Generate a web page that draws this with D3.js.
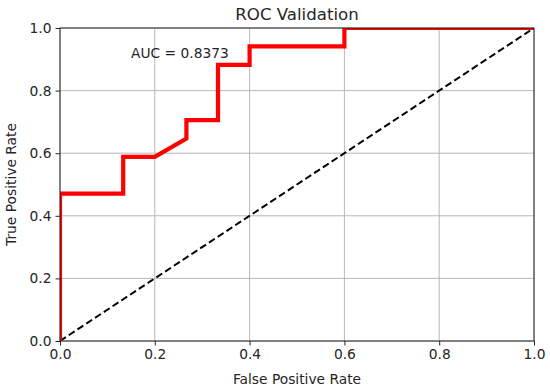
<!DOCTYPE html>
<html><head><meta charset="utf-8">
<script src="https://cdn.jsdelivr.net/npm/d3@7"></script>
<style>body{margin:0;background:#fff;} text{font-family:"DejaVu Sans",sans-serif;fill:#262626;}</style>
</head><body><svg id="c" width="550" height="391"></svg>
<script>
const fpr = [0, 0, 2/15, 2/15, 3/15, 4/15, 4/15, 5/15, 5/15, 6/15, 6/15, 9/15, 9/15, 1];
const tpr = [0, 8/17, 8/17, 10/17, 10/17, 11/17, 12/17, 12/17, 15/17, 15/17, 16/17, 16/17, 1, 1];
const ticks = [0, 0.2, 0.4, 0.6, 0.8, 1.0];
const aucText = "AUC = 0.8373";
const title = "ROC Validation";

const svg = d3.select("#c");
const L = 60, R = 534, T = 28, B = 341;
const x = d3.scaleLinear().domain([0,1]).range([L,R]);
const y = d3.scaleLinear().domain([0,1]).range([B,T]);

svg.append("defs").append("clipPath").attr("id","clip").append("rect")
  .attr("x",L).attr("y",T).attr("width",R-L).attr("height",B-T);

// grid
svg.append("g").selectAll("line").data(ticks).join("line")
  .attr("x1",d=>x(d)).attr("x2",d=>x(d)).attr("y1",T).attr("y2",B)
  .attr("stroke","#b0b0b0").attr("stroke-width",0.9);
svg.append("g").selectAll("line").data(ticks).join("line")
  .attr("y1",d=>y(d)).attr("y2",d=>y(d)).attr("x1",L).attr("x2",R)
  .attr("stroke","#b0b0b0").attr("stroke-width",0.9);

const g = svg.append("g").attr("clip-path","url(#clip)");
// diagonal
g.append("line").attr("x1",x(0)).attr("y1",y(0)).attr("x2",x(1)).attr("y2",y(1))
  .attr("stroke","#000").attr("stroke-width",2).attr("stroke-dasharray","7,3.5");
// ROC
const pts = fpr.map((f,i)=>[f,tpr[i]]);
g.append("path").datum(pts)
  .attr("d", d3.line().x(d=>x(d[0])).y(d=>y(d[1])))
  .attr("fill","none").attr("stroke","#ff0000").attr("stroke-width",4.2).attr("stroke-linejoin","miter");

// axes
const xa = svg.append("g").attr("transform",`translate(0,${B})`)
  .call(d3.axisBottom(x).tickValues(ticks).tickFormat(d3.format(".1f")).tickSize(4.5).tickPadding(4));
const ya = svg.append("g").attr("transform",`translate(${L},0)`)
  .call(d3.axisLeft(y).tickValues(ticks).tickFormat(d3.format(".1f")).tickSize(4.5).tickPadding(4));
[xa,ya].forEach(a=>{
  a.select(".domain").remove();
  a.selectAll("line").attr("stroke","#262626").attr("stroke-width",1);
  a.selectAll("text").style("font-size","13.8px").style("font-family","DejaVu Sans").attr("fill","#262626");
});
// frame
svg.append("rect").attr("x",L).attr("y",T).attr("width",R-L).attr("height",B-T)
  .attr("fill","none").attr("stroke","#262626").attr("stroke-width",1);

svg.append("text").attr("x",131).attr("y",58).style("font-size","13.8px").text(aucText);
svg.append("text").attr("x",(L+R)/2).attr("y",20).attr("text-anchor","middle").style("font-size","16.6px").text(title);
svg.append("text").attr("x",(L+R)/2).attr("y",384).attr("text-anchor","middle").style("font-size","13.8px").text("False Positive Rate");
svg.append("text").attr("transform",`translate(16,${(T+B)/2}) rotate(-90)`).attr("text-anchor","middle").style("font-size","13.8px").text("True Positive Rate");
</script></body></html>
